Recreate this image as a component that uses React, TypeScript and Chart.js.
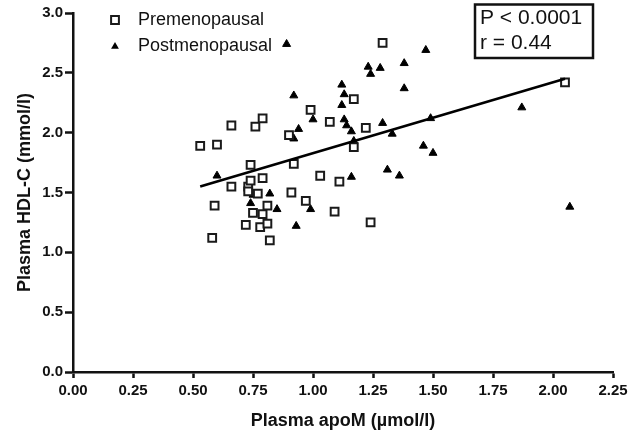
import React, { useEffect, useRef } from "react";
import { Chart, registerables } from "chart.js";

Chart.register(...registerables);

// ---- Data ----
const seriesLabels = ["Premenopausal", "Postmenopausal"];

const preX = [0.53, 0.58, 0.59, 0.60, 0.66, 0.66, 0.72, 0.73, 0.73, 0.74, 0.74, 0.75, 0.76, 0.77, 0.78, 0.79, 0.79, 0.79, 0.81, 0.81, 0.82, 0.90, 0.91, 0.92, 0.97, 0.99, 1.03, 1.07, 1.09, 1.11, 1.17, 1.17, 1.22, 1.24, 1.29, 2.05];
const preY = [1.89, 1.12, 1.39, 1.90, 1.55, 2.06, 1.23, 1.55, 1.51, 1.73, 1.60, 1.33, 2.05, 1.49, 1.21, 1.62, 1.32, 2.12, 1.39, 1.24, 1.10, 1.98, 1.50, 1.74, 1.43, 2.19, 1.64, 2.09, 1.34, 1.59, 2.28, 1.88, 2.04, 1.25, 2.75, 2.42];

const postX = [0.60, 0.74, 0.75, 0.82, 0.85, 0.89, 0.92, 0.92, 0.93, 0.94, 0.99, 1.00, 1.12, 1.12, 1.13, 1.13, 1.14, 1.16, 1.16, 1.17, 1.23, 1.24, 1.28, 1.29, 1.31, 1.33, 1.36, 1.38, 1.38, 1.46, 1.47, 1.49, 1.50, 1.87, 2.07];
const postY = [1.64, 1.41, 1.48, 1.49, 1.36, 2.74, 2.31, 1.95, 1.22, 2.03, 1.36, 2.11, 2.40, 2.23, 2.11, 2.32, 2.06, 2.01, 1.63, 1.93, 2.55, 2.49, 2.54, 2.08, 1.69, 1.99, 1.64, 2.58, 2.37, 1.89, 2.69, 2.12, 1.83, 2.21, 1.38];

const fitX = [0.53, 2.05];
const fitY = [1.55, 2.45];

const xTicks = [0, 0.25, 0.5, 0.75, 1.0, 1.25, 1.5, 1.75, 2.0, 2.25];
const yTicks = [0, 0.5, 1.0, 1.5, 2.0, 2.5, 3.0];

const xTitle = "Plasma apoM (\u00b5mol/l)";
const yTitle = "Plasma HDL-C (mmol/l)";
const statLines = ["P < 0.0001", "r = 0.44"];

const FONT = "'Liberation Sans', Arial, Helvetica, sans-serif";

const toPoints = (xs: number[], ys: number[]) => xs.map((x, i) => ({ x, y: ys[i] }));

const overlayPlugin = {
  id: "overlay",
  afterDraw(chart: any) {
    const ctx = chart.ctx as CanvasRenderingContext2D;
    ctx.save();
    // Legend
    const items = [
      { label: seriesLabels[0], style: "rect", y: 20 },
      { label: seriesLabels[1], style: "triangle", y: 46.5 },
    ];
    items.forEach((it) => {
      if (it.style === "rect") {
        ctx.lineWidth = 2;
        ctx.strokeStyle = "#1a1a1a";
        ctx.fillStyle = "#fff";
        ctx.beginPath();
        ctx.rect(115 - 3.9, it.y - 3.9, 7.8, 7.8);
        ctx.fill();
        ctx.stroke();
      } else {
        ctx.fillStyle = "#000";
        ctx.beginPath();
        const r = 4.5;
        ctx.moveTo(115, it.y - r);
        ctx.lineTo(115 + r * 0.866, it.y + r / 2);
        ctx.lineTo(115 - r * 0.866, it.y + r / 2);
        ctx.closePath();
        ctx.fill();
      }
      ctx.fillStyle = "#111";
      ctx.font = `18px ${FONT}`;
      ctx.textBaseline = "middle";
      ctx.textAlign = "left";
      ctx.fillText(it.label, 138, it.y);
    });
    // Stats box
    ctx.lineWidth = 2.5;
    ctx.strokeStyle = "#111";
    ctx.strokeRect(475, 4.5, 118, 53.5);
    ctx.fillStyle = "#111";
    ctx.font = `21px ${FONT}`;
    ctx.textBaseline = "middle";
    ctx.fillText(statLines[0], 480, 18.5);
    ctx.fillText(statLines[1], 480, 43.5);
    ctx.restore();
  },
};

export default function App() {
  const ref = useRef<HTMLCanvasElement | null>(null);

  useEffect(() => {
    if (!ref.current) return;
    const chart = new Chart(ref.current, {
      type: "scatter",
      data: {
        datasets: [
          {
            label: "fit",
            data: toPoints(fitX, fitY),
            showLine: true,
            borderColor: "#000",
            borderWidth: 2.6,
            pointRadius: 0,
            fill: false,
          },
          {
            label: seriesLabels[0],
            data: toPoints(preX, preY),
            pointStyle: "rect",
            pointRadius: 5.5,
            backgroundColor: "#fff",
            borderColor: "#1a1a1a",
            borderWidth: 2,
          },
          {
            label: seriesLabels[1],
            data: toPoints(postX, postY),
            pointStyle: "triangle",
            pointRadius: 4.6,
            backgroundColor: "#000",
            borderColor: "#000",
            borderWidth: 1,
          },
        ] as any,
      },
      options: {
        responsive: false,
        animation: false,
        devicePixelRatio: 1,
        layout: { padding: { left: 0, top: 13, right: 22, bottom: 0 } },
        plugins: {
          legend: { display: false },
          tooltip: { enabled: false },
        },
        scales: {
          x: {
            type: "linear",
            min: 0,
            max: 2.25,
            afterBuildTicks: (scale: any) => {
              scale.ticks = xTicks.map((v) => ({ value: v }));
            },
            afterFit: (scale: any) => {
              scale.height = 61;
            },
            ticks: {
              autoSkip: false,
              maxRotation: 0,
              padding: 4,
              color: "#111",
              font: { family: FONT, size: 15, weight: "bold" },
              callback: (v: any) => Number(v).toFixed(2),
            },
            grid: {
              drawOnChartArea: false,
              drawTicks: true,
              tickLength: 6,
              tickWidth: 2.5,
              tickColor: "#111",
            },
            border: { display: true, width: 2.5, color: "#111" },
            title: {
              display: true,
              text: xTitle,
              color: "#111",
              font: { family: FONT, size: 18, weight: "bold" },
              padding: { top: 0, bottom: 1 },
            },
          },
          y: {
            type: "linear",
            min: 0,
            max: 3,
            afterBuildTicks: (scale: any) => {
              scale.ticks = yTicks.map((v) => ({ value: v }));
            },
            afterFit: (scale: any) => {
              scale.width = 73;
            },
            ticks: {
              autoSkip: false,
              padding: 2,
              color: "#111",
              font: { family: FONT, size: 15, weight: "bold" },
              callback: (v: any) => Number(v).toFixed(1),
            },
            grid: {
              drawOnChartArea: false,
              drawTicks: true,
              tickLength: 8,
              tickWidth: 2.5,
              tickColor: "#111",
            },
            border: { display: true, width: 2.5, color: "#111" },
            title: {
              display: true,
              text: yTitle,
              color: "#111",
              font: { family: FONT, size: 18, weight: "bold" },
              padding: { top: 14, bottom: 0 },
            },
          },
        },
      } as any,
      plugins: [overlayPlugin],
    });
    return () => chart.destroy();
  }, []);

  return (
    <div style={{ position: "absolute", left: 0, top: 0, width: 635, height: 433, background: "#fff" }}>
      <canvas ref={ref} width={635} height={433} style={{ width: 635, height: 433, display: "block" }} />
    </div>
  );
}
